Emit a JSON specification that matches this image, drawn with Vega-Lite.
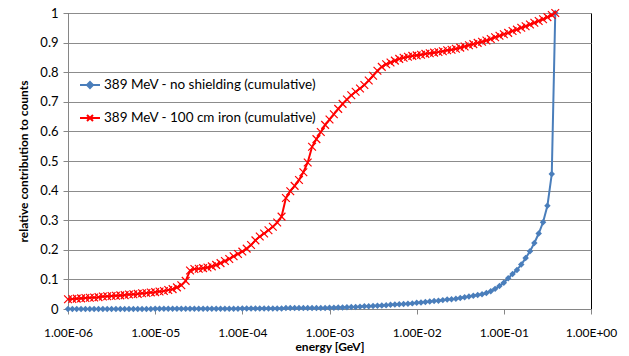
{
 "$schema": "https://vega.github.io/schema/vega-lite/v6.json",
 "width": 523, "height": 296,
 "autosize": "none",
 "padding": {"left": 68, "top": 13, "right": 38, "bottom": 47},
 "background": "#ffffff",
 "config": {"font": "Lato", "view": {"stroke": "#000000", "strokeWidth": 1}},
 "data": {"values": [
  {"e":1e-6,"a":0,"b":0.033},{"e":1.122e-6,"a":0,"b":0.034},{"e":1.259e-6,"a":0,"b":0.035},{"e":1.413e-6,"a":0,"b":0.036},{"e":1.585e-6,"a":0,"b":0.037},
  {"e":1.778e-6,"a":0,"b":0.038},{"e":1.995e-6,"a":0,"b":0.039},{"e":2.239e-6,"a":0,"b":0.040},{"e":2.512e-6,"a":0,"b":0.042},{"e":2.818e-6,"a":0,"b":0.043},
  {"e":3.162e-6,"a":0,"b":0.044},{"e":3.548e-6,"a":0,"b":0.045},{"e":3.981e-6,"a":0,"b":0.046},{"e":4.467e-6,"a":0,"b":0.047},{"e":5.012e-6,"a":0,"b":0.049},
  {"e":5.623e-6,"a":0,"b":0.050},{"e":6.31e-6,"a":0,"b":0.051},{"e":7.079e-6,"a":0,"b":0.053},{"e":7.943e-6,"a":0,"b":0.054},{"e":8.913e-6,"a":0,"b":0.056},
  {"e":1e-5,"a":0.001,"b":0.057},{"e":1.122e-5,"a":0.001,"b":0.059},{"e":1.259e-5,"a":0.001,"b":0.061},{"e":1.413e-5,"a":0.001,"b":0.064},{"e":1.585e-5,"a":0.001,"b":0.067},
  {"e":1.778e-5,"a":0.001,"b":0.073},{"e":1.995e-5,"a":0.001,"b":0.080},{"e":2.239e-5,"a":0.001,"b":0.095},{"e":2.512e-5,"a":0.001,"b":0.130},{"e":2.818e-5,"a":0.001,"b":0.135},
  {"e":3.162e-5,"a":0.001,"b":0.136},{"e":3.548e-5,"a":0.001,"b":0.138},{"e":3.981e-5,"a":0.001,"b":0.140},{"e":4.467e-5,"a":0.001,"b":0.144},{"e":5.012e-5,"a":0.001,"b":0.149},
  {"e":5.623e-5,"a":0.001,"b":0.155},{"e":6.31e-5,"a":0.001,"b":0.162},{"e":7.079e-5,"a":0.001,"b":0.169},{"e":7.943e-5,"a":0.001,"b":0.178},{"e":8.913e-5,"a":0.001,"b":0.186},
  {"e":1e-4,"a":0.002,"b":0.194},{"e":1.122e-4,"a":0.002,"b":0.204},{"e":1.259e-4,"a":0.002,"b":0.216},{"e":1.413e-4,"a":0.002,"b":0.232},{"e":1.585e-4,"a":0.002,"b":0.245},
  {"e":1.778e-4,"a":0.002,"b":0.255},{"e":1.995e-4,"a":0.002,"b":0.266},{"e":2.239e-4,"a":0.002,"b":0.278},{"e":2.512e-4,"a":0.002,"b":0.292},{"e":2.818e-4,"a":0.002,"b":0.312},
  {"e":3.162e-4,"a":0.003,"b":0.375},{"e":3.548e-4,"a":0.003,"b":0.398},{"e":3.981e-4,"a":0.003,"b":0.416},{"e":4.467e-4,"a":0.003,"b":0.436},{"e":5.012e-4,"a":0.003,"b":0.462},
  {"e":5.623e-4,"a":0.003,"b":0.495},{"e":6.31e-4,"a":0.003,"b":0.548},{"e":7.079e-4,"a":0.003,"b":0.574},{"e":7.943e-4,"a":0.003,"b":0.598},{"e":8.913e-4,"a":0.003,"b":0.622},
  {"e":0.001,"a":0.004,"b":0.640},{"e":0.001122,"a":0.004,"b":0.658},{"e":0.001259,"a":0.005,"b":0.676},{"e":0.001413,"a":0.005,"b":0.693},{"e":0.001585,"a":0.006,"b":0.708},
  {"e":0.001778,"a":0.007,"b":0.722},{"e":0.001995,"a":0.007,"b":0.734},{"e":0.002239,"a":0.008,"b":0.745},{"e":0.002512,"a":0.009,"b":0.757},{"e":0.002818,"a":0.009,"b":0.772},
  {"e":0.003162,"a":0.010,"b":0.788},{"e":0.003548,"a":0.011,"b":0.805},{"e":0.003981,"a":0.012,"b":0.818},{"e":0.004467,"a":0.013,"b":0.827},{"e":0.005012,"a":0.014,"b":0.833},
  {"e":0.005623,"a":0.015,"b":0.839},{"e":0.00631,"a":0.016,"b":0.845},{"e":0.007079,"a":0.017,"b":0.849},{"e":0.007943,"a":0.018,"b":0.852},{"e":0.008913,"a":0.019,"b":0.855},
  {"e":0.01,"a":0.021,"b":0.857},{"e":0.01122,"a":0.022,"b":0.859},{"e":0.01259,"a":0.024,"b":0.862},{"e":0.01413,"a":0.025,"b":0.864},{"e":0.01585,"a":0.027,"b":0.866},
  {"e":0.01778,"a":0.028,"b":0.868},{"e":0.01995,"a":0.030,"b":0.871},{"e":0.02239,"a":0.032,"b":0.874},{"e":0.02512,"a":0.033,"b":0.876},{"e":0.02818,"a":0.035,"b":0.879},
  {"e":0.03162,"a":0.037,"b":0.883},{"e":0.03548,"a":0.040,"b":0.887},{"e":0.03981,"a":0.042,"b":0.891},{"e":0.04467,"a":0.045,"b":0.895},{"e":0.05012,"a":0.047,"b":0.899},
  {"e":0.05623,"a":0.050,"b":0.903},{"e":0.0631,"a":0.054,"b":0.907},{"e":0.07079,"a":0.060,"b":0.912},{"e":0.07943,"a":0.068,"b":0.918},{"e":0.08913,"a":0.078,"b":0.923},
  {"e":0.1,"a":0.089,"b":0.928},{"e":0.1122,"a":0.104,"b":0.933},{"e":0.1259,"a":0.118,"b":0.939},{"e":0.1413,"a":0.132,"b":0.944},{"e":0.1585,"a":0.150,"b":0.950},
  {"e":0.1778,"a":0.172,"b":0.955},{"e":0.1995,"a":0.195,"b":0.961},{"e":0.2239,"a":0.223,"b":0.967},{"e":0.2512,"a":0.255,"b":0.973},{"e":0.2818,"a":0.293,"b":0.979},
  {"e":0.3162,"a":0.349,"b":0.986},{"e":0.3548,"a":0.456,"b":0.993},{"e":0.389,"a":1.0,"b":1.0}
 ]},
 "transform": [{"fold": ["a", "b"], "as": ["s", "v"]}],
 "encoding": {
  "x": {"field": "e", "type": "quantitative",
   "scale": {"type": "log", "domain": [1e-6, 1]},
   "axis": {"values": [1e-6, 1e-5, 1e-4, 1e-3, 1e-2, 1e-1, 1],
    "labelExpr": "'1.00E' + (datum.value >= 1 ? '+00' : '-0' + round(-log(datum.value)/LN10))",
    "grid": false, "domainColor": "#868686", "tickColor": "#868686", "tickSize": 5,
    "labelFontSize": 12, "labelColor": "#000000", "labelPadding": 13, "labelFlush": false,
    "title": "energy [GeV]", "titleFontSize": 12, "titleFontWeight": "bold", "titleColor": "#000000", "titlePadding": 3}},
  "y": {"field": "v", "type": "quantitative",
   "scale": {"domain": [0, 1], "nice": false},
   "axis": {"values": [0, 0.1, 0.2, 0.3, 0.4, 0.5, 0.6, 0.7, 0.8, 0.9, 1], "format": ".1~f",
    "grid": true, "gridColor": "#8c8c8c", "gridWidth": 1, "domainColor": "#868686", "tickColor": "#868686", "tickSize": 5,
    "labelFontSize": 13, "labelColor": "#000000", "labelPadding": 5,
    "title": "relative contribution to counts", "titleFontSize": 12, "titleFontWeight": "bold", "titleColor": "#000000", "titlePadding": 9}},
  "color": {"field": "s", "type": "nominal",
   "scale": {"domain": ["a", "b"], "range": ["#4a7ebb", "#ff0000"]},
   "legend": {"orient": "none", "legendX": 11, "legendY": 61, "title": null, "labelLimit": 400,
    "labelExpr": "datum.value == 'a' ? '389 MeV - no shielding (cumulative)' : '389 MeV - 100 cm iron (cumulative)'",
    "labelFontSize": 13.5, "labelColor": "#000000", "labelOffset": 3, "rowPadding": 15, "symbolSize": 400, "symbolStrokeWidth": 2,
    "encode": {"symbols": {"update": {
      "shape": {"signal": "datum.value == 'a' ? 'M-1,0H1M0,-0.3L0.3,0L0,0.3L-0.3,0Z' : 'M-1,0H1M-0.3,-0.3L0.3,0.3M-0.3,0.3L0.3,-0.3'"},
      "fill": {"signal": "datum.value == 'a' ? '#4a7ebb' : 'transparent'"},
      "stroke": {"signal": "datum.value == 'a' ? '#4a7ebb' : '#ff0000'"},
      "strokeWidth": {"value": 2}, "size": {"value": 400}, "opacity": {"value": 1}}}}}}
 },
 "layer": [
  {"mark": {"type": "line", "strokeWidth": 2}},
  {"transform": [{"filter": "datum.s == 'a'"}], "mark": {"type": "point", "shape": "diamond", "filled": true, "size": 42, "opacity": 1}},
  {"transform": [{"filter": "datum.s == 'b'"}], "mark": {"type": "point", "shape": "M-1,-1L1,1M-1,1L1,-1", "filled": false, "strokeWidth": 1.2, "size": 60, "opacity": 1}}
 ]
}
